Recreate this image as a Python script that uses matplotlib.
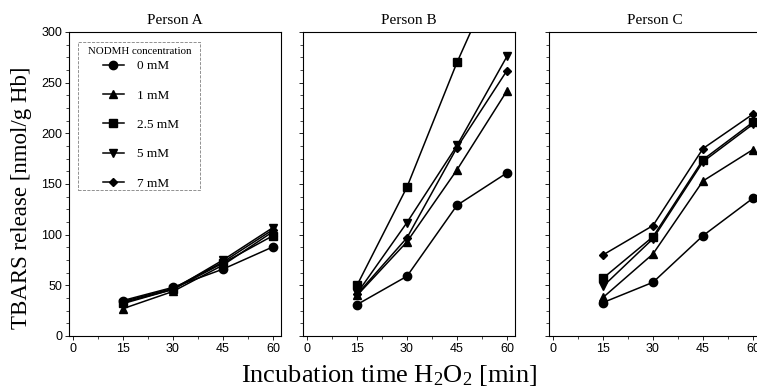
import matplotlib.pyplot as plt
from matplotlib.patches import Rectangle
from matplotlib.ticker import MultipleLocator

plt.rcParams['font.family'] = ['Liberation Serif', 'DejaVu Serif']
plt.rcParams['mathtext.fontset'] = 'custom'
plt.rcParams['mathtext.rm'] = 'Liberation Serif'
plt.rcParams['mathtext.it'] = 'Liberation Serif:italic'

time = [15, 30, 45, 60]
labels = ['0 mM', '1 mM', '2.5 mM', '5 mM', '7 mM']
markers = ['o', '^', 's', 'v', 'D']
msizes = [6, 6, 6, 6, 4.5]

# TBARS release [nmol/g Hb], one list per NODMH concentration
person_a = [[35, 48, 66, 88],
            [27, 44, 70, 103],
            [33, 46, 72, 99],
            [32, 46, 75, 107],
            [34, 47, 73, 105]]
person_b = [[31, 59, 129, 161],
            [40, 93, 164, 242],
            [50, 147, 270, 380],
            [42, 112, 188, 276],
            [41, 97, 186, 262]]
person_c = [[33, 53, 99, 136],
            [38, 81, 153, 184],
            [57, 98, 174, 211],
            [49, 96, 172, 209],
            [80, 109, 185, 219]]
persons = ['Person A', 'Person B', 'Person C']
data = [person_a, person_b, person_c]

fig = plt.figure(figsize=(7.57, 3.87), dpi=100)
lefts = [69, 303, 549]
axes = []
for i, left in enumerate(lefts):
    ax = fig.add_axes([left / 757, 51 / 387, 212 / 757, 304 / 387])
    for j in range(len(labels)):
        ax.plot(time, data[i][j], color='black', lw=1.1, marker=markers[j],
                ms=msizes[j], label=labels[j])
    ax.set_xlim(-1.2, 62.4)
    ax.set_ylim(0, 300)
    ax.set_xticks([0, 15, 30, 45, 60])
    ax.xaxis.set_minor_locator(MultipleLocator(7.5))
    ax.yaxis.set_major_locator(MultipleLocator(50))
    ax.yaxis.set_minor_locator(MultipleLocator(12.5))
    ax.tick_params(which='major', length=3, width=0.6, labelsize=9, pad=2)
    ax.tick_params(which='minor', length=2, width=0.5)
    for lab in ax.get_xticklabels() + ax.get_yticklabels():
        lab.set_family('Liberation Sans')
    if i > 0:
        ax.set_yticklabels([])
    for s in ax.spines.values():
        s.set_linewidth(0.8)
    ax.set_title(persons[i], fontsize=11, pad=6)
    axes.append(ax)

fig.text(22 / 757, 0.49, 'TBARS release [nmol/g Hb]', fontsize=16.5,
         rotation=90, ha='center', va='center')
fig.text(389 / 757, 5 / 387, r'Incubation time H$_2$O$_2$ [min]', fontsize=19,
         ha='center', va='baseline')

ax = axes[0]
ax.add_patch(Rectangle((0.042, 0.48), 0.576, 0.487, transform=ax.transAxes,
                       fill=False, edgecolor='gray', lw=0.6, ls='--'))
ax.text(0.09, 0.937, 'NODMH concentration', transform=ax.transAxes,
        fontsize=7.8, ha='left', va='center')
ax.legend(loc='upper left', bbox_to_anchor=(0.16, 0.908), frameon=False,
          fontsize=9.5, labelspacing=1.3, handlelength=1.6,
          handletextpad=1.0, borderpad=0, borderaxespad=0)

fig.savefig('out.png', dpi=100)
